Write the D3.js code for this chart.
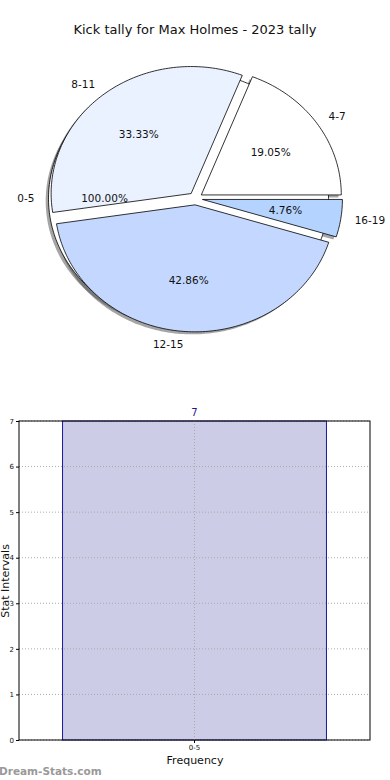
<!DOCTYPE html>
<html><head><meta charset="utf-8">
<script src="https://cdn.jsdelivr.net/npm/d3@7"></script>
<style>body{margin:0;background:#fff;}svg{display:block;font-family:"DejaVu Sans",sans-serif;}</style>
</head><body>
<svg id="c" width="390" height="780"></svg>
<script>
const title = "Kick tally for Max Holmes - 2023 tally";
// main pie (counter-clockwise from east)
const pieLabels = ["4-7", "8-11", "12-15", "16-19"];
const pieValues = [4, 7, 9, 1];
const pieColors = ["#ffffff", "#eaf1ff", "#c4d8ff", "#b4d4ff"];
// background single-slice pie
const backLabels = ["0-5"];
const backValues = [1];
const backColors = ["#ffffff"];

const barCategories = ["0-5"];
const barValues = [7];
const yTicks = [0, 1, 2, 3, 4, 5, 6, 7];

const svg = d3.select("#c");
svg.append("text").attr("x", 195).attr("y", 34).attr("text-anchor", "middle")
  .attr("font-size", 13).attr("fill", "#111").text(title);

// ---------- Pie ----------
const cx = 195.5, cy = 198.5, rx = 140, ry = 127, explode = 0.05;
const pct = d3.format(".2%");
function mathAngle(a) { return Math.PI / 2 - a; }
function pt(theta, r, ox, oy) { return [ox + r * rx * Math.cos(theta), oy - r * ry * Math.sin(theta)]; }
function slicePath(a, ox, oy) {
  const t0 = mathAngle(a.startAngle), t1 = mathAngle(a.endAngle);
  const full = Math.abs(t1 - t0) > 2 * Math.PI - 1e-6;
  const p = d3.path();
  const n = Math.max(2, Math.ceil(Math.abs(t1 - t0) / 0.02));
  if (!full) p.moveTo(ox, oy);
  for (let i = 0; i <= n; i++) {
    const t = t0 + (t1 - t0) * i / n;
    const q = pt(t, 1, ox, oy);
    if (full && i === 0) p.moveTo(q[0], q[1]); else p.lineTo(q[0], q[1]);
  }
  p.closePath();
  return p.toString();
}
function layout(values, labels, colors) {
  const total = d3.sum(values);
  const pie = d3.pie().sort(null).value(d => d)
    .startAngle(Math.PI / 2).endAngle(Math.PI / 2 - 2 * Math.PI);
  return pie(values).map((a, i) => {
    const tm = mathAngle((a.startAngle + a.endAngle) / 2);
    const ox = cx + explode * rx * Math.cos(tm), oy = cy - explode * ry * Math.sin(tm);
    return { a, tm, ox, oy, label: labels[i], color: colors[i], p: values[i] / total };
  });
}
const backSlices = layout(backValues, backLabels, backColors);
const mainSlices = layout(pieValues, pieLabels, pieColors);
const allSlices = backSlices.concat(mainSlices);

const gShadow = svg.append("g"), gWedge = svg.append("g"), gText = svg.append("g");
gShadow.selectAll("path").data(allSlices).join("path")
  .attr("d", s => slicePath(s.a, s.ox - 0.02 * rx, s.oy + 0.02 * ry))
  .attr("fill", "#4d4d4d").attr("opacity", 0.5).attr("stroke", "none")
  .style("filter", "blur(0.5px)");
gWedge.selectAll("path").data(allSlices).join("path")
  .attr("d", s => slicePath(s.a, s.ox, s.oy))
  .attr("fill", s => s.color).attr("stroke", "#000").attr("stroke-width", 0.8)
  .attr("stroke-linejoin", "round");
allSlices.forEach(s => {
  const lp = pt(s.tm, 1.1, s.ox, s.oy);
  gText.append("text").attr("x", lp[0]).attr("y", lp[1]).attr("dy", "0.35em")
    .attr("text-anchor", lp[0] > cx ? "start" : "end")
    .attr("font-size", 10.5).attr("fill", "#111").text(s.label);
  const pp = pt(s.tm, 0.6, s.ox, s.oy);
  gText.append("text").attr("x", pp[0]).attr("y", pp[1]).attr("dy", "0.35em")
    .attr("text-anchor", "middle").attr("font-size", 10.5).attr("fill", "#111")
    .text(pct(s.p));
});

// ---------- Bar ----------
const L = 19, R = 370, T = 421, B = 740;
const x = d3.scaleBand().domain(barCategories).range([L, R]).paddingInner(0.2).paddingOuter(0.132);
const y = d3.scaleLinear().domain([0, 7]).range([B, T]);
const gBar = svg.append("g");
gBar.selectAll("rect.bar").data(barValues).join("rect")
  .attr("x", (d, i) => x(barCategories[i])).attr("width", x.bandwidth())
  .attr("y", d => y(d)).attr("height", d => B - y(d))
  .attr("fill", "#ccccE6").attr("stroke", "#1a1a99").attr("stroke-width", 1);
gBar.selectAll("line.gy").data(yTicks).join("line")
  .attr("x1", L).attr("x2", R).attr("y1", d => y(d)).attr("y2", d => y(d))
  .attr("stroke", "#aaa").attr("stroke-width", 1).attr("stroke-dasharray", "1,2");
gBar.selectAll("line.gx").data(barCategories).join("line")
  .attr("x1", d => x(d) + x.bandwidth() / 2).attr("x2", d => x(d) + x.bandwidth() / 2)
  .attr("y1", T).attr("y2", B)
  .attr("stroke", "#aaa").attr("stroke-width", 1).attr("stroke-dasharray", "1,2");
gBar.append("rect").attr("x", L).attr("y", T).attr("width", R - L).attr("height", B - T)
  .attr("fill", "none").attr("stroke", "#000").attr("stroke-width", 1);
const yAxis = d3.axisLeft(y).tickValues(yTicks).tickSize(3).tickPadding(2).tickFormat(d3.format("d"));
const ga = gBar.append("g").attr("transform", `translate(${L},0)`).call(yAxis);
ga.select(".domain").remove();
ga.selectAll("text").attr("font-size", 7).attr("font-family", "DejaVu Sans").attr("fill", "#111");
const xAxis = d3.axisBottom(x).tickSize(3).tickPadding(2);
const gx = gBar.append("g").attr("transform", `translate(0,${B})`).call(xAxis);
gx.select(".domain").remove();
gx.selectAll("text").attr("font-size", 7).attr("font-family", "DejaVu Sans").attr("fill", "#111");
gBar.selectAll("text.val").data(barValues).join("text")
  .attr("x", (d, i) => x(barCategories[i]) + x.bandwidth() / 2).attr("y", d => y(d) - 5)
  .attr("text-anchor", "middle").attr("font-size", 10).attr("fill", "#1a1a8c").text(d => d);
svg.append("text").attr("x", 195).attr("y", 764).attr("text-anchor", "middle")
  .attr("font-size", 11).attr("fill", "#111").text("Frequency");
svg.append("text").attr("transform", "translate(9,581) rotate(-90)").attr("text-anchor", "middle")
  .attr("font-size", 11).attr("fill", "#111").text("Stat Intervals");
svg.append("text").attr("x", -1).attr("y", 775).attr("font-size", 10.5).attr("font-weight", "bold")
  .attr("fill", "#999").text("Dream-Stats.com");
</script>
</body></html>
